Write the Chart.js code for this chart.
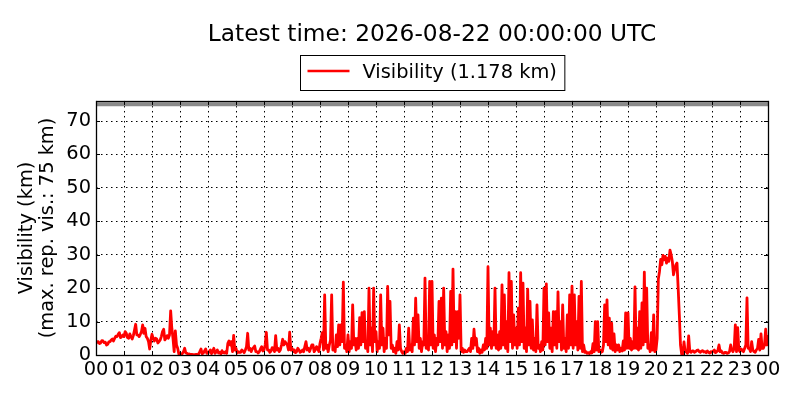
<!DOCTYPE html>
<html><head><meta charset="utf-8">
<script src="https://cdn.jsdelivr.net/npm/chart.js@4.4.1/dist/chart.umd.min.js"></script>
<style>html,body{margin:0;padding:0;background:#fff}canvas{display:block}</style>
</head><body>
<canvas id="c" width="800" height="400"></canvas>
<script>
const titleText = 'Latest time: 2026-08-22 00:00:00 UTC';
const seriesLabel = 'Visibility (1.178 km)';
const yAxisTitle = ['Visibility (km)', '(max. rep. vis.: 75 km)'];
const hourTicks = ['00','01','02','03','04','05','06','07','08','09','10','11','12','13','14','15','16','17','18','19','20','21','22','23','00'];
const yTickValues = [0, 10, 20, 30, 40, 50, 60, 70];
const maxReportedVis = 75;
const stepMinutes = 2.5;
// visibility (km), one value every 2.5 minutes from 00:00 to 24:00 (one row per hour)
const visibility = [
  3.5,3.9,4.0,3.4,3.6,4.3,4.2,3.7,3.8,3.0,3.2,3.9,4.0,4.5,4.8,4.2,5.0,5.6,5.5,6.2,6.7,5.2,5.5,6.0,
  5.5,7.0,6.5,5.2,5.0,6.3,5.5,4.8,5.8,7.5,9.2,6.0,6.0,5.5,6.2,7.0,9.0,6.5,8.0,5.5,5.0,4.0,1.8,4.5,
  6.2,5.0,4.2,5.0,4.8,3.6,4.0,4.5,5.5,7.0,7.7,4.5,5.0,5.8,5.0,6.0,13.2,8.0,5.0,1.0,7.2,3.0,2.0,0.3,
  0.5,0.2,0.4,1.0,2.0,0.6,0.5,0.2,0.3,0.1,0.2,0.1,0.1,0.1,0.2,0.1,0.3,1.0,1.8,0.4,0.6,1.2,1.8,0.5,
  0.6,1.0,1.5,0.4,1.2,2.0,0.5,0.9,1.5,0.6,0.8,0.3,1.3,0.7,0.6,1.0,0.5,3.5,4.2,3.0,4.0,1.0,5.9,1.5,
  2.0,0.6,1.0,0.8,0.8,1.5,1.2,0.7,1.5,2.5,6.5,1.5,2.0,1.0,1.8,2.2,2.7,1.0,1.0,0.6,1.0,1.8,2.5,1.2,
  1.5,3.0,6.8,1.5,1.5,0.8,1.2,2.2,2.0,1.0,5.8,1.5,2.0,1.0,1.5,3.0,4.7,3.0,4.0,3.5,3.0,1.5,6.8,1.5,
  2.0,1.0,1.5,0.7,1.0,2.0,1.5,0.8,1.0,1.5,1.0,2.5,4.0,1.5,2.0,1.0,2.0,3.0,3.0,1.0,1.5,2.5,2.0,1.0,
  3.5,5.0,6.7,1.5,18.0,2.0,3.0,1.0,3.0,4.5,18.0,1.5,2.0,1.0,6.0,2.5,9.0,3.0,9.0,4.0,21.8,2.0,3.0,1.0,
  6.0,1.0,4.0,2.0,15.0,3.0,5.0,1.5,5.0,2.0,11.2,3.0,12.7,4.0,13.0,2.0,4.0,1.0,20.0,3.0,8.0,1.0,20.0,4.0,
  7.0,1.0,4.0,2.0,18.0,3.0,8.0,1.0,5.0,2.0,20.5,6.0,16.0,2.0,3.0,1.0,2.0,0.5,4.0,1.5,9.0,2.0,1.0,0.5,
  1.0,0.5,2.0,1.0,8.0,1.5,3.0,1.0,11.0,3.0,17.0,4.0,12.0,2.0,5.0,1.0,4.0,3.0,23.0,2.0,5.0,1.5,22.0,3.0,
  22.0,2.0,6.0,1.0,5.0,3.0,16.0,4.0,17.0,2.0,20.0,3.0,7.0,1.0,6.0,2.0,19.0,3.0,25.7,4.0,13.0,2.0,13.0,5.0,
  18.0,1.0,2.0,0.8,1.5,1.0,1.0,1.5,2.0,1.0,5.0,2.0,7.7,3.0,5.0,1.0,2.0,0.5,1.5,0.8,3.0,1.5,5.0,2.0,
  26.4,3.0,8.0,2.0,7.0,3.0,20.0,2.0,6.0,1.5,7.0,2.0,21.0,3.0,18.0,2.0,10.0,1.0,24.6,4.0,22.0,2.0,12.0,3.0,
  8.0,2.0,14.0,3.0,24.6,4.0,21.5,2.0,8.0,1.0,19.7,3.0,16.0,2.0,10.5,1.5,5.0,1.0,15.0,2.0,3.0,1.0,4.0,1.5,
  20.0,3.0,21.3,4.0,12.6,2.0,8.0,1.0,13.0,3.0,13.0,2.0,18.9,4.0,10.0,1.5,15.0,2.0,5.0,1.0,12.0,2.0,18.0,3.0,
  20.6,2.0,18.0,3.0,10.0,1.5,17.5,2.0,22.0,1.0,3.0,0.8,1.0,0.5,0.7,0.4,1.0,0.6,3.4,1.0,10.0,1.5,10.0,1.0,
  1.5,0.8,1.0,3.0,15.0,4.0,16.5,3.0,11.0,2.0,9.5,1.5,6.3,1.0,3.0,1.5,3.0,1.0,2.0,1.2,4.2,1.5,12.6,2.0,
  12.6,2.0,5.0,1.5,4.0,2.0,20.4,2.0,8.0,1.5,13.0,2.0,15.6,3.0,24.8,4.0,20.0,2.0,3.0,1.0,6.7,1.5,12.0,1.0,
  1.5,5.0,22.7,25.0,28.6,27.0,29.8,28.5,29.5,27.5,29.0,28.0,31.4,30.0,28.0,24.0,25.6,27.0,27.5,20.0,12.0,3.0,0.3,0.2,
  3.9,1.0,1.0,0.5,5.7,1.0,0.8,1.2,1.2,0.8,1.0,1.4,1.5,1.0,0.8,1.2,1.3,0.9,1.0,0.7,1.2,0.8,0.6,1.0,
  0.8,1.2,1.5,0.7,1.0,1.3,3.0,1.0,1.2,0.6,0.5,0.8,0.8,0.5,0.6,1.0,3.0,1.5,1.0,2.0,9.0,1.0,8.2,1.5,
  1.0,1.8,1.5,1.0,2.0,3.0,17.1,2.0,2.0,1.0,4.0,1.5,1.0,0.8,1.5,2.0,4.7,1.5,6.3,2.0,2.0,3.0,7.7,3.0,
  6.0
];

const FONT = 'DejaVu Sans';
Chart.defaults.color = '#000';
Chart.defaults.font.family = FONT;

const visPoints = visibility.map((v, i) => ({x: i * stepMinutes / 60, y: v}));
const maxPoints = [{x: 0, y: maxReportedVis}, {x: hourTicks.length - 1, y: maxReportedVis}];

const framePlugin = {
  id: 'frame',
  afterDatasetsDraw(chart) {
    const ctx = chart.ctx, a = chart.chartArea;
    const xs = chart.scales.x, ys = chart.scales.y;
    ctx.save();
    ctx.strokeStyle = '#000';
    ctx.lineWidth = 1;
    ctx.beginPath();
    xs.ticks.forEach(t => {
      const px = Math.round(xs.getPixelForValue(t.value)) + 0.5;
      ctx.moveTo(px, a.bottom); ctx.lineTo(px, a.bottom - 4);
      ctx.moveTo(px, a.top); ctx.lineTo(px, a.top + 4);
    });
    ys.ticks.forEach(t => {
      const py = Math.round(ys.getPixelForValue(t.value)) + 0.5;
      ctx.moveTo(a.left, py); ctx.lineTo(a.left + 4, py);
      ctx.moveTo(a.right, py); ctx.lineTo(a.right - 4, py);
    });
    ctx.stroke();
    ctx.lineWidth = 1.3;
    ctx.strokeRect(Math.round(a.left) + 0.5, Math.round(a.top) + 0.5, Math.round(a.right - a.left), Math.round(a.bottom - a.top));
    ctx.restore();
  },
  afterDraw(chart) {
    const ctx = chart.ctx, a = chart.chartArea;
    const ds = chart.data.datasets[0];
    const cx = (a.left + a.right) / 2;
    ctx.save();
    ctx.font = '19.4px "' + FONT + '"';
    const tw = ctx.measureText(ds.label).width;
    const sample = 42, gap = 13, padL = 7, padR = 8;
    const w = padL + sample + gap + tw + padR;
    const x0 = Math.round(cx - w / 2) + 0.5, y0 = 55.5, h = 35;
    ctx.fillStyle = '#fff';
    ctx.fillRect(x0, y0, w, h);
    ctx.strokeStyle = '#000';
    ctx.lineWidth = 1;
    ctx.strokeRect(x0, y0, w, h);
    ctx.strokeStyle = ds.borderColor;
    ctx.lineWidth = 2.5;
    ctx.beginPath();
    ctx.moveTo(x0 + padL, y0 + 15.5);
    ctx.lineTo(x0 + padL + sample, y0 + 15.5);
    ctx.stroke();
    ctx.fillStyle = '#000';
    ctx.textBaseline = 'middle';
    ctx.textAlign = 'left';
    ctx.fillText(ds.label, x0 + padL + sample + gap, y0 + 17);
    ctx.restore();
  }
};

new Chart(document.getElementById('c'), {
  type: 'line',
  data: {
    datasets: [
      {label: seriesLabel, data: visPoints, borderColor: '#ff0000', borderWidth: 2.8,
       pointRadius: 0, tension: 0, borderJoinStyle: 'round', fill: false, order: 1},
      {label: 'max', data: maxPoints, borderColor: '#8a8a8a', borderWidth: 4,
       pointRadius: 0, fill: false, order: 2}
    ]
  },
  plugins: [framePlugin],
  options: {
    responsive: false,
    animation: false,
    devicePixelRatio: 1,
    layout: {padding: {left: 0, right: 32, top: 0, bottom: 0}},
    plugins: {
      legend: {display: false},
      tooltip: {enabled: false},
      title: {display: true, text: titleText, fullSize: false, color: '#000',
              font: {size: 23.3, weight: 'normal', family: FONT, lineHeight: 1.2},
              padding: {top: 21, bottom: 52}}
    },
    scales: {
      x: {
        type: 'linear', min: 0, max: hourTicks.length - 1,
        afterFit(s) { s.height = 45; },
        afterBuildTicks(s) { s.ticks = hourTicks.map((_, i) => ({value: i})); },
        ticks: {autoSkip: false, maxRotation: 0, padding: 3, font: {size: 19.4, family: FONT},
                callback: (v) => hourTicks[v]},
        grid: {color: '#000', lineWidth: 1, drawTicks: false},
        border: {display: false, dash: [1.5, 3.5]}
      },
      y: {
        min: 0, max: 76,
        afterFit(s) { s.width = 96; },
        afterBuildTicks(s) { s.ticks = yTickValues.map(v => ({value: v})); },
        ticks: {padding: 5, font: {size: 19.4, family: FONT}},
        grid: {color: '#000', lineWidth: 1, drawTicks: false},
        border: {display: false, dash: [1.5, 3.5]},
        title: {display: true, text: yAxisTitle, color: '#000',
                font: {size: 19.4, family: FONT, lineHeight: 1.1}, padding: {top: 16, bottom: 0}}
      }
    }
  }
});
</script>
</body></html>
